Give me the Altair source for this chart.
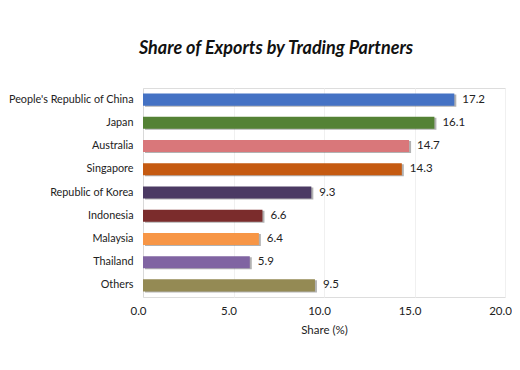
import altair as alt
import pandas as pd

partners = ["People's Republic of China", "Japan", "Australia", "Singapore",
            "Republic of Korea", "Indonesia", "Malaysia", "Thailand", "Others"]
shares = [17.2, 16.1, 14.7, 14.3, 9.3, 6.6, 6.4, 5.9, 9.5]
colors = ["#4472C4", "#548235", "#D9777A", "#C55A11", "#4B3A63",
          "#7B2C2C", "#F79646", "#8064A2", "#948A54"]
x_ticks = [0, 5, 10, 15, 20]

df = pd.DataFrame({"partner": partners, "share": shares, "color": colors})

FONT = "Lato"

y_enc = alt.Y("partner:N", sort=partners, title=None,
              scale=alt.Scale(paddingInner=0.48, paddingOuter=0.24),
              axis=alt.Axis(labelFontSize=10.8, labelColor="#222222", labelFont=FONT,
                            ticks=False, domain=True, domainColor="#d9d9d9",
                            labelPadding=10, grid=False, labelLimit=200))
x_enc = alt.X("share:Q", title="Share (%)",
              scale=alt.Scale(domain=[0, 20], nice=False),
              axis=alt.Axis(values=x_ticks, format=".1f", labelFontSize=11.5,
                            labelColor="#222222", labelFont=FONT, ticks=False,
                            domain=False, grid=True, gridColor="#f0f0f0",
                            labelFlush=False, labelOffset=-5,
                            labelPadding=8, titleFont=FONT, titleFontSize=11.5,
                            titleFontWeight="normal", titleColor="#222222",
                            titlePadding=8))

base = alt.Chart(df)

shadow = base.mark_bar(color="#555555", opacity=0.45, xOffset=2, yOffset=1).encode(
    x=x_enc, y=y_enc)

bars = base.mark_bar().encode(
    x=x_enc, y=y_enc,
    color=alt.Color("color:N", scale=None))

labels = base.mark_text(align="left", dx=8, fontSize=11.5, font=FONT,
                        color="#222222").encode(
    x=x_enc, y=y_enc, text=alt.Text("share:Q", format=".1f"))

chart = (shadow + bars + labels).properties(
    width=362, height=209,
    title=alt.Title("Share of Exports by Trading Partners", font=FONT,
                    fontSize=18, fontWeight="bold", fontStyle="italic",
                    color="#111111", anchor="middle", dx=-48, offset=30),
    autosize=alt.AutoSizeParams(type="none"),
    padding={"left": 135, "top": 80, "right": 7, "bottom": 60},
).configure_view(stroke=None).configure(background="white")

chart.save("out.html", embed_options={"renderer": "svg", "actions": False})
